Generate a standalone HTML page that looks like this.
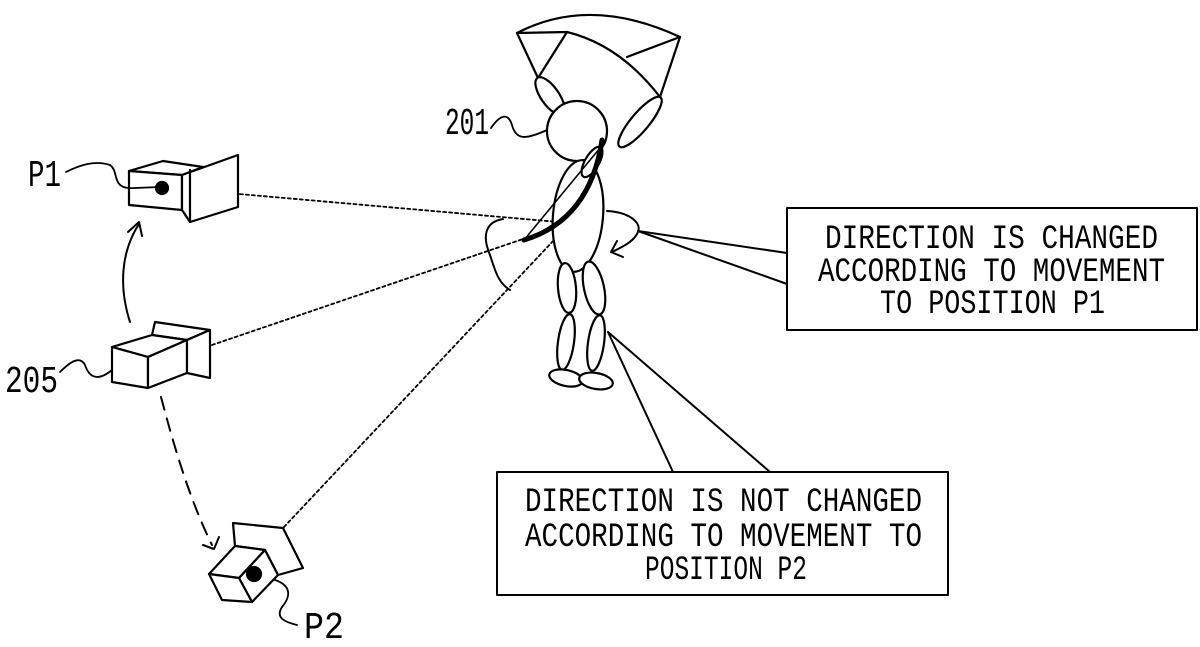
<!DOCTYPE html>
<html><head><meta charset="utf-8"><style>
html,body{margin:0;padding:0;background:#fff;}
svg{display:block;}
text{font-family:"Liberation Mono",monospace;fill:#000;}
</style></head><body>
<svg width="1200" height="647" viewBox="0 0 1200 647" xmlns="http://www.w3.org/2000/svg">
<g fill="none" stroke="#000" stroke-width="2.2" stroke-linejoin="round" stroke-linecap="round">
<g stroke-width="1.8" stroke-dasharray="3,3">
<line x1="216" y1="192" x2="570" y2="223"/>
<line x1="212" y1="345" x2="570" y2="223"/>
<line x1="284" y1="527" x2="570" y2="223"/>
</g>
<polygon points="129,171 163,161 203,167 182,175" fill="#fff"/>
<polygon points="129,171 182,175 182,210 129,205" fill="#fff"/>
<polygon points="182,175 238,155 238,207 190,222 182,210" fill="#fff"/>
<line x1="190" y1="170" x2="190" y2="222"/>
<circle cx="162" cy="188" r="6" fill="#000"/>
<path d="M66,172 C80,165 95,160 110,165 C120,172 110,190 135,188 L160,187" stroke-width="1.8"/>
<polygon points="155,322 210,330 187,340 152,335" fill="#fff"/>
<polygon points="112,347 152,335 187,340 148,357" fill="#fff"/>
<polygon points="112,347 148,357 148,388 112,382" fill="#fff"/>
<polygon points="148,357 187,340 187,373 148,388" fill="#fff"/>
<polygon points="187,340 210,330 210,378 187,373" fill="#fff"/>
<path d="M60,372 C70,362 80,355 85,365 C90,380 100,380 112,370" stroke-width="1.8"/>
<path d="M130,322 C118,285 122,250 139,224" stroke-width="2"/>
<path d="M128,232 L139,222 L142,236" stroke-width="2"/>
<path d="M161,397 C175,450 190,500 212,545" stroke-dasharray="13,9" stroke-width="2"/>
<path d="M203,545 L214,549 L219,537" stroke-width="2"/>
<polygon points="233,523 283,528 303,568 278,575 265,550 235,546" fill="#fff"/>
<polygon points="209,574 235,546 265,550 239,578" fill="#fff"/>
<polygon points="239,578 265,550 278,575 252,602" fill="#fff"/>
<polygon points="209,574 239,578 252,602 222,600" fill="#fff"/>
<circle cx="254" cy="574" r="7" fill="#000"/>
<path d="M275,580 C290,585 292,595 282,607 C275,618 285,622 297,625" stroke-width="1.8"/>
<path d="M517,33 Q590,-5 680,37" />
<path d="M517,33 L567,32 Q620,45 660,97"/>
<line x1="567" y1="32" x2="538" y2="78"/>
<line x1="517" y1="33" x2="538" y2="78"/>
<line x1="627" y1="57" x2="680" y2="37"/>
<line x1="680" y1="37" x2="660" y2="97"/>
<ellipse cx="550" cy="96" rx="9" ry="22" transform="rotate(-35 550 96)" fill="#fff"/>
<ellipse cx="640" cy="122" rx="9" ry="32" transform="rotate(40 640 122)" fill="#fff"/>
<path d="M491,128 C500,115 508,112 512,125 C516,140 525,140 547,130" stroke-width="1.8"/>
<circle cx="577" cy="131" r="30" fill="#fff"/>
<ellipse cx="578" cy="216" rx="25" ry="56" transform="rotate(5 578 216)" fill="#fff"/>
<ellipse cx="592" cy="162" rx="7" ry="17" transform="rotate(30 592 162)" fill="#fff"/>
<line x1="524" y1="240" x2="600" y2="148" stroke-width="1.6"/>
<path d="M524,240 Q590,220 602,140" stroke-width="5"/>
<ellipse cx="567" cy="288" rx="9" ry="25" transform="rotate(-5 567 288)" fill="#fff"/>
<ellipse cx="594" cy="288" rx="10" ry="27" transform="rotate(-12 594 288)" fill="#fff"/>
<ellipse cx="566" cy="342" rx="8" ry="28" transform="rotate(8 566 342)" fill="#fff"/>
<ellipse cx="596" cy="343" rx="8" ry="28" transform="rotate(8 596 343)" fill="#fff"/>
<ellipse cx="566" cy="378" rx="17" ry="8" transform="rotate(12 566 378)" fill="#fff"/>
<ellipse cx="596" cy="381" rx="17" ry="8" transform="rotate(10 596 381)" fill="#fff"/>
<path d="M503,219 C485,222 482,236 490,255 C495,270 498,283 510,290" stroke-width="2"/>
<path d="M607,211 C628,212 642,222 638,232 C634,242 620,248 612,252" stroke-width="2"/>
<path d="M617,241 L611,252 L623,257" stroke-width="2"/>
<path d="M638,231 L787,253" stroke-width="2"/>
<path d="M638,231 L787,284" stroke-width="2"/>
<path d="M608,332 L673,472" stroke-width="2"/>
<path d="M608,332 L770,472" stroke-width="2"/>
<rect x="787" y="208" width="410" height="122" fill="#fff" stroke-width="2"/>
<rect x="497" y="472" width="451" height="123" fill="#fff" stroke-width="2"/>
</g>
<g font-size="34">
<text x="825" y="248" textLength="333" lengthAdjust="spacingAndGlyphs">DIRECTION IS CHANGED</text>
<text x="818" y="281" textLength="347" lengthAdjust="spacingAndGlyphs">ACCORDING TO MOVEMENT</text>
<text x="880" y="313" textLength="225" lengthAdjust="spacingAndGlyphs">TO POSITION P1</text>
<text x="525" y="511" textLength="397" lengthAdjust="spacingAndGlyphs">DIRECTION IS NOT CHANGED</text>
<text x="525" y="546" textLength="397" lengthAdjust="spacingAndGlyphs">ACCORDING TO MOVEMENT TO</text>
<text x="645" y="579" textLength="162" lengthAdjust="spacingAndGlyphs">POSITION P2</text>
</g>
<g font-size="38">
<text x="28" y="186" textLength="33" lengthAdjust="spacingAndGlyphs">P1</text>
<text x="5" y="392" textLength="53" lengthAdjust="spacingAndGlyphs">205</text>
<text x="445" y="134" textLength="44" lengthAdjust="spacingAndGlyphs">201</text>
<text x="304" y="638" textLength="40" lengthAdjust="spacingAndGlyphs">P2</text>
</g>
</svg>
</body></html>
